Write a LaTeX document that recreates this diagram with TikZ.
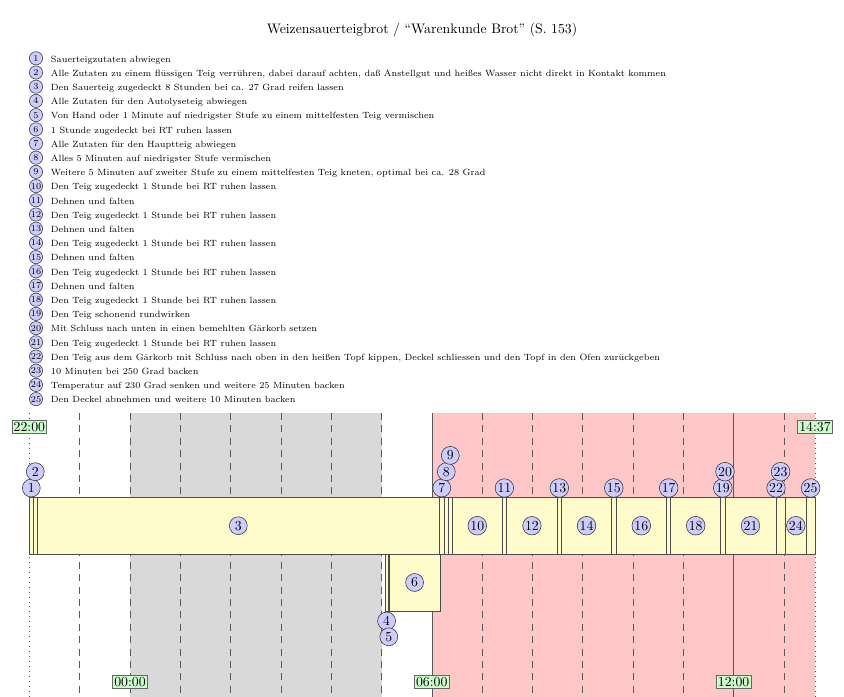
\documentclass[tikz,border=0pt]{standalone}
\begin{document}
\begin{tikzpicture}[x=0.7257pt,y=-0.7257pt,
  stepbox/.style={draw=black!70, fill=yellow!20, line width=0.5pt},
  num/.style={circle, draw=black!80, fill=blue!20, line width=0.4pt, inner sep=0.5pt, minimum size=13pt, font=\normalsize},
  lnum/.style={circle, draw=black!80, fill=blue!20, line width=0.4pt, inner sep=0.2pt, minimum size=9.6pt, font=\fontsize{6.55}{8}\selectfont},
  timelbl/.style={draw=black!60, fill=green!20, line width=0.4pt, inner sep=1.2pt, font=\normalsize},
  hourline/.style={black!65, dash pattern=on 5pt off 4pt, line width=0.4pt},
  edgeline/.style={black!70, dash pattern=on 0.6pt off 3pt, line width=0.5pt},
  legtext/.style={anchor=west, inner sep=0pt, font=\fontsize{6.55}{8}\selectfont, text height=1.5ex, text depth=0.25ex}]
\useasboundingbox (0,0) rectangle (844,697);

% title
\node (title) at (422,30) {Weizensauerteigbrot / “Warenkunde Brot” (S. 153)};

% legend
\foreach \k/\t in {
 1/{Sauerteigzutaten abwiegen},
 2/{Alle Zutaten zu einem flüssigen Teig verrühren, dabei darauf achten, daß Anstellgut und heißes Wasser nicht direkt in Kontakt kommen},
 3/{Den Sauerteig zugedeckt 8 Stunden bei ca. 27 Grad reifen lassen},
 4/{Alle Zutaten für den Autolyseteig abwiegen},
 5/{Von Hand oder 1 Minute auf niedrigster Stufe zu einem mittelfesten Teig vermischen},
 6/{1 Stunde zugedeckt bei RT ruhen lassen},
 7/{Alle Zutaten für den Hauptteig abwiegen},
 8/{Alles 5 Minuten auf niedrigster Stufe vermischen},
 9/{Weitere 5 Minuten auf zweiter Stufe zu einem mittelfesten Teig kneten, optimal bei ca. 28 Grad},
 10/{Den Teig zugedeckt 1 Stunde bei RT ruhen lassen},
 11/{Dehnen und falten},
 12/{Den Teig zugedeckt 1 Stunde bei RT ruhen lassen},
 13/{Dehnen und falten},
 14/{Den Teig zugedeckt 1 Stunde bei RT ruhen lassen},
 15/{Dehnen und falten},
 16/{Den Teig zugedeckt 1 Stunde bei RT ruhen lassen},
 17/{Dehnen und falten},
 18/{Den Teig zugedeckt 1 Stunde bei RT ruhen lassen},
 19/{Den Teig schonend rundwirken},
 20/{Mit Schluss nach unten in einen bemehlten Gärkorb setzen},
 21/{Den Teig zugedeckt 1 Stunde bei RT ruhen lassen},
 22/{Den Teig aus dem Gärkorb mit Schluss nach oben in den heißen Topf kippen, Deckel schliessen und den Topf in den Ofen zurückgeben},
 23/{10 Minuten bei 250 Grad backen},
 24/{Temperatur auf 230 Grad senken und weitere 25 Minuten backen},
 25/{Den Deckel abnehmen und weitere 10 Minuten backen}}{
  \pgfmathsetmacro{\yy}{58.3+14.2*(\k-1)}
  \node[lnum] (l\k) at (36,\yy) {\k};
  \node[legtext] (lt\k) at (50.7,\yy) {\t};
}

% background bands
\fill[black!15] (130,413) rectangle (381.5,697);
\fill[red!22] (431.8,413) rectangle (815,697);

% hour lines
\foreach \h in {1,...,15}{
  \draw[hourline] (29.4+50.3*\h,413) -- (29.4+50.3*\h,697);
}
\draw[hourline, dash phase=4.5pt] (431.8,413) -- (431.8,697);
\draw[hourline, dash phase=4.5pt] (733.6,413) -- (733.6,697);
\draw[edgeline] (29.4,413) -- (29.4,697);
\draw[edgeline] (815,413) -- (815,697);

% top row steps
\foreach \a/\b in {29.3/33.3, 33.3/37.3, 37.3/439.3, 439.3/444.3, 444.3/448.3, 448.3/452.3,
  452.3/502.3, 502.3/506.5, 506.5/557.3, 557.3/561.3, 561.3/611.7, 611.7/616, 616/666.7,
  666.7/670.7, 670.7/720.7, 720.7/725, 725/725, 725/776, 776/776, 776/785.3, 785.3/806.3, 806.3/815}{
  \draw[stepbox] (\a,497) rectangle (\b,554);
}
% bottom row steps
\foreach \a/\b in {385/388.3, 388.3/389.3, 389.3/440}{
  \draw[stepbox] (\a,554) rectangle (\b,611);
}

% step numbers inside boxes
\foreach \n/\x in {3/238.3, 10/477.3, 12/531.9, 14/586.5, 16/641.3, 18/695.7, 21/750.5, 24/795.8}{
  \node[num] (s\n) at (\x,525.7) {\n};
}
\node[num] (s6) at (414.6,582.5) {6};

% step numbers above boxes
\foreach \n/\x/\l in {1/31.3/0, 2/35.3/1, 7/441.8/0, 8/446.3/1, 9/450.3/2, 11/504.4/0, 13/559.3/0,
  15/613.8/0, 17/668.7/0, 19/722.8/0, 20/725/1, 22/776/0, 23/780.6/1, 25/810.6/0}{
  \node[num] (s\n) at (\x,488-16.3*\l) {\n};
}
% step numbers below boxes
\node[num] (s4) at (386.6,621) {4};
\node[num] (s5) at (388.8,636.8) {5};

% time labels
\node[timelbl] (t2200) at (29.4,427) {22:00};
\node[timelbl] (t1437) at (815,427) {14:37};
\node[timelbl] (t0000) at (130,682) {00:00};
\node[timelbl] (t0600) at (431.8,682) {06:00};
\node[timelbl] (t1200) at (733.6,682) {12:00};
\end{tikzpicture}
\end{document}
